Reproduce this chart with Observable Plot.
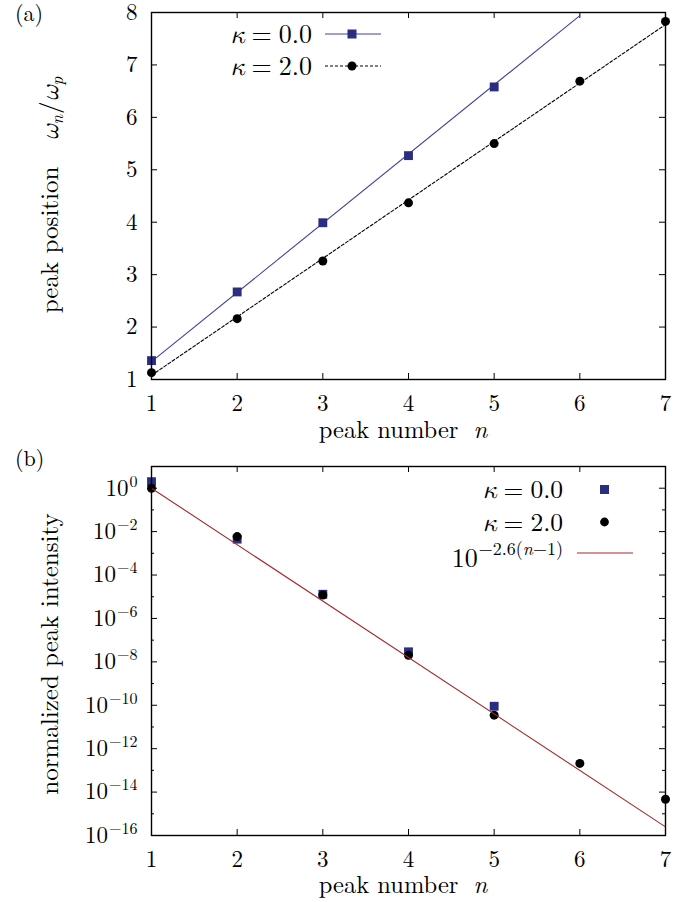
<!DOCTYPE html>
<html><head><meta charset="utf-8">
<script src="https://cdn.jsdelivr.net/npm/d3@7"></script>
<script src="https://cdn.jsdelivr.net/npm/@observablehq/plot@0.6"></script>
<style>
body{margin:0;background:#fff;}
#chart{width:682px;}
#chart svg{display:block;}
#chart svg, #chart text {font-family: "Latin Modern Roman", "Liberation Serif", serif !important;}
</style></head><body><div id="chart"></div>
<script>
// ---------- data ----------
const peakN = [1, 2, 3, 4, 5, 6, 7];
const posKappa0 = [1.36, 2.67, 3.99, 5.27, 6.58];            // n = 1..5
const posKappa2 = [1.13, 2.16, 3.26, 4.37, 5.50, 6.69, 7.83]; // n = 1..7
const lineKappa0N = [1, 6];
const lineKappa0Y = [1.34, 7.94];
const lineKappa2N = [1, 7];
const lineKappa2Y = [1.08, 7.77];
const intKappa0 = [2.0, 4.5e-3, 1.3e-5, 2.9e-8, 9.0e-11];                  // n = 1..5
const intKappa2 = [1.0, 5.9e-3, 1.2e-5, 2.0e-8, 3.5e-11, 2.1e-13, 4.7e-15]; // n = 1..7
const fitN = [1, 7];
const fitY = [1, 2.5e-16];
const xTicks = [1, 2, 3, 4, 5, 6, 7];
const yTicksTop = [1, 2, 3, 4, 5, 6, 7, 8];
const logMajorExp = [0, -2, -4, -6, -8, -10, -12, -14, -16];
const logMinorExp = [1, -1, -3, -5, -7, -9, -11, -13, -15];
const legendTop = ["0.0", "2.0"];
const legendBottom = ["0.0", "2.0"];

// ---------- style ----------
const FONT = '"Latin Modern Roman", "Liberation Serif", serif';
const GREEK = '"Latin Modern Math", "Liberation Serif", serif';
const W = 682, ML = 151, MR = 17;
const PW = W - ML - MR;
const NAVY = "#2b2d80", BLUE_LINE = "#4243a0", RED = "#a3282c";

function txt(svg, x, y, parts, opts = {}) {
  const t = d3.select(svg).append("text")
    .attr("x", x).attr("y", y)
    .style("font-size", (opts.size || 24) + "px")
    .attr("text-anchor", opts.anchor || "start")
    .attr("fill", "black");
  if (opts.rotate) t.attr("transform", `rotate(${opts.rotate},${x},${y})`);
  for (const p of parts) {
    const s = t.append("tspan").text(p.t);
    if (p.i) s.style("font-style", "italic");
    if (p.g) s.style("font-family", GREEK);
    if (p.size) s.style("font-size", p.size + "px");
    if (p.dy) s.attr("dy", p.dy);
    if (p.dx) s.attr("dx", p.dx);
  }
  return t;
}

function ticks(xs, ys, plotH, majorLen, yMinor, minorLen) {
  const m = [
    Plot.ruleX(xs, {x: d => d, insetTop: plotH - majorLen, stroke: "black", strokeWidth: 1}),
    Plot.ruleX(xs, {x: d => d, insetBottom: plotH - majorLen, stroke: "black", strokeWidth: 1}),
    Plot.ruleY(ys, {y: d => d, insetRight: PW - majorLen, stroke: "black", strokeWidth: 1}),
    Plot.ruleY(ys, {y: d => d, insetLeft: PW - majorLen, stroke: "black", strokeWidth: 1})
  ];
  if (yMinor) {
    m.push(Plot.ruleY(yMinor, {y: d => d, insetRight: PW - minorLen, stroke: "black", strokeWidth: 1}));
    m.push(Plot.ruleY(yMinor, {y: d => d, insetLeft: PW - minorLen, stroke: "black", strokeWidth: 1}));
  }
  return m;
}

const chart = document.getElementById("chart");
const STYLE = `font-family: ${FONT}; font-size: 23px; color: black; background: white;`;

// ---------- panel (a) ----------
const H1 = 445, MT1 = 12, MB1 = 66, PH1 = H1 - MT1 - MB1;
const k0pts = posKappa0.map((v, i) => ({n: peakN[i], v}));
const k2pts = posKappa2.map((v, i) => ({n: peakN[i], v}));
const k0line = lineKappa0N.map((n, i) => ({n, v: lineKappa0Y[i]}));
const k2line = lineKappa2N.map((n, i) => ({n, v: lineKappa2Y[i]}));

const p1 = Plot.plot({
  width: W, height: H1,
  marginLeft: ML, marginRight: MR, marginTop: MT1, marginBottom: MB1,
  style: STYLE,
  x: {domain: [1, 7]},
  y: {domain: [1, 8]},
  marks: [
    ...ticks(xTicks, yTicksTop, PH1, 6),
    Plot.axisX({ticks: xTicks, tickSize: 0, tickPadding: 15, label: null, tickFormat: d => String(d)}),
    Plot.axisY({ticks: yTicksTop, tickSize: 0, tickPadding: 14, label: null, tickFormat: d => String(d)}),
    Plot.line(k0line, {x: "n", y: "v", stroke: BLUE_LINE, strokeWidth: 1.1}),
    Plot.dot(k0pts, {x: "n", y: "v", symbol: "square", r: 5, fill: NAVY}),
    Plot.line(k2line, {x: "n", y: "v", stroke: "black", strokeWidth: 1.1, strokeDasharray: "3,2"}),
    Plot.dot(k2pts, {x: "n", y: "v", symbol: "circle", r: 4.5, fill: "black"}),
    Plot.frame({stroke: "black", strokeWidth: 1.4})
  ]
});
chart.appendChild(p1);

txt(p1, 15, 21, [{t: "(a)"}], {size: 22});
txt(p1, 58, 195, [
  {t: "peak position"},
  {t: "ω", i: true, g: true, dx: 26},
  {t: "n", i: true, size: 17, dy: 5},
  {t: "/", dy: -5, dx: 1},
  {t: "ω", i: true, g: true},
  {t: "p", i: true, size: 17, dy: 5}
], {rotate: -90, anchor: "middle", size: 25});
txt(p1, 403, 438, [{t: "peak number"}, {t: "n", i: true, dx: 15}], {anchor: "middle", size: 24.5});

// legend (a)
{
  const g = d3.select(p1);
  const rows = [34, 66];
  legendTop.forEach((lab, i) => {
    const y = rows[i];
    txt(p1, 312, y + 9, [{t: "κ", i: true, g: true}, {t: "=", dx: 7}, {t: lab, dx: 7}], {anchor: "end", size: 26});
    const ln = g.append("line").attr("x1", 325).attr("x2", 381).attr("y1", y).attr("y2", y)
      .attr("stroke", i === 0 ? BLUE_LINE : "black").attr("stroke-width", 1.1);
    if (i === 1) ln.attr("stroke-dasharray", "3,2");
    if (i === 0) g.append("rect").attr("x", 352 - 4.5).attr("y", y - 4.5).attr("width", 9).attr("height", 9).attr("fill", NAVY);
    else g.append("circle").attr("cx", 352).attr("cy", y).attr("r", 4.5).attr("fill", "black");
  });
}

// ---------- panel (b) ----------
const H2 = 457, MT2 = 21, MB2 = 67, PH2 = H2 - MT2 - MB2;
const i0pts = intKappa0.map((v, i) => ({n: peakN[i], v}));
const i2pts = intKappa2.map((v, i) => ({n: peakN[i], v}));
const fitPts = fitN.map((n, i) => ({n, v: fitY[i]}));
const majorVals = logMajorExp.map(e => Math.pow(10, e));
const minorVals = logMinorExp.map(e => Math.pow(10, e));

const p2 = Plot.plot({
  width: W, height: H2,
  marginLeft: ML, marginRight: MR, marginTop: MT2, marginBottom: MB2,
  style: STYLE,
  x: {domain: [1, 7]},
  y: {type: "log", domain: [1e-16, 10]},
  marks: [
    ...ticks(xTicks, majorVals, PH2, 6, minorVals, 3),
    Plot.axisX({ticks: xTicks, tickSize: 0, tickPadding: 15, label: null, tickFormat: d => String(d)}),
    Plot.axisY({ticks: majorVals, tickSize: 0, tickPadding: 14, label: null,
      tickFormat: d => "10^" + Math.round(Math.log10(d))}),
    Plot.dot(i0pts, {x: "n", y: "v", symbol: "square", r: 5, fill: NAVY}),
    Plot.dot(i2pts, {x: "n", y: "v", symbol: "circle", r: 4.5, fill: "black"}),
    Plot.line(fitPts, {x: "n", y: "v", stroke: RED, strokeWidth: 1.1}),
    Plot.frame({stroke: "black", strokeWidth: 1.4})
  ]
});
chart.appendChild(p2);

// superscript tick labels
p2.querySelectorAll('g[aria-label="y-axis tick label"] text').forEach(t => {
  const s = t.textContent;
  const m = s.match(/^10\^(-?\d+)$/);
  if (!m) return;
  const e = m[1].replace("-", "\u2212");
  t.textContent = "";
  const a = document.createElementNS("http://www.w3.org/2000/svg", "tspan");
  a.textContent = "10";
  const b = document.createElementNS("http://www.w3.org/2000/svg", "tspan");
  b.textContent = e;
  b.style.fontSize = "16px";
  b.setAttribute("dy", "-9");
  b.setAttribute("dx", "1");
  t.appendChild(a); t.appendChild(b);
});

txt(p2, 15, 20.5, [{t: "(b)"}], {size: 22});
txt(p2, 58, 209, [{t: "normalized peak intensity"}], {rotate: -90, anchor: "middle", size: 25});
txt(p2, 403, 448, [{t: "peak number"}, {t: "n", i: true, dx: 15}], {anchor: "middle", size: 24.5});

// legend (b)
{
  const g = d3.select(p2);
  const rows = [44.5, 77];
  legendBottom.forEach((lab, i) => {
    const y = rows[i];
    txt(p2, 563, y + 8.5, [{t: "κ", i: true, g: true}, {t: "=", dx: 7}, {t: lab, dx: 7}], {anchor: "end", size: 25.5});
    if (i === 0) g.append("rect").attr("x", 604.5 - 4.5).attr("y", y - 4.5).attr("width", 9).attr("height", 9).attr("fill", NAVY);
    else g.append("circle").attr("cx", 604.5).attr("cy", y).attr("r", 4.4).attr("fill", "black");
  });
  const y3 = 108;
  txt(p2, 563, y3 + 14, [
    {t: "10"},
    {t: "\u22122.6(", size: 18, dy: -12, dx: 1},
    {t: "n", size: 18, i: true},
    {t: "\u22121)", size: 18}
  ], {anchor: "end", size: 26});
  g.append("line").attr("x1", 577).attr("x2", 633).attr("y1", y3).attr("y2", y3)
    .attr("stroke", RED).attr("stroke-width", 1.1);
}
</script></body></html>
